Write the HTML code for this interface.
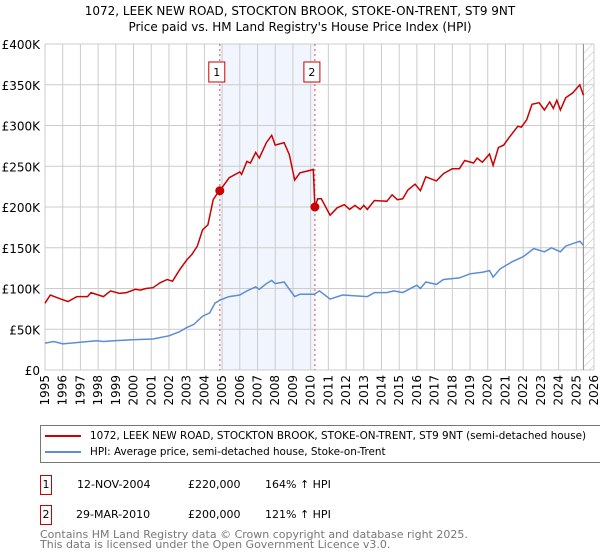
<!DOCTYPE html>
<html><head><meta charset="utf-8"><style>
body{margin:0;background:#fff;font-family:"DejaVu Sans","Liberation Sans",sans-serif;}
#wrap{position:relative;width:600px;height:560px;overflow:hidden}
</style></head><body><div id="wrap">
<svg id="chart" width="600" height="560" style="position:absolute;left:0;top:0;font-family:'DejaVu Sans','Liberation Sans',sans-serif">
<defs><pattern id="hatch" width="6" height="6" patternUnits="userSpaceOnUse" patternTransform="rotate(45)"><line x1="0" y1="0" x2="0" y2="6" stroke="#bbb" stroke-width="1"/></pattern></defs>
<text x="300" y="15" text-anchor="middle" font-size="12">1072, LEEK NEW ROAD, STOCKTON BROOK, STOKE-ON-TRENT, ST9 9NT</text>
<text x="300" y="31" text-anchor="middle" font-size="12">Price paid vs. HM Land Registry's House Price Index (HPI)</text>
<g id="grid"></g><g id="marks"></g><g id="axes"></g>
</svg>
<div style="position:absolute;left:40px;top:425px;width:570px;height:36px;border:1px solid #777;font-size:10.4px">
<div style="position:absolute;left:4px;top:4px;white-space:nowrap"><span style="display:inline-block;width:36px;border-top:2px solid #cc0000;vertical-align:middle;margin-right:9px"></span>1072, LEEK NEW ROAD, STOCKTON BROOK, STOKE-ON-TRENT, ST9 9NT (semi-detached house)</div>
<div style="position:absolute;left:4px;top:20px;white-space:nowrap"><span style="display:inline-block;width:36px;border-top:2px solid #5b8dd6;vertical-align:middle;margin-right:9px"></span>HPI: Average price, semi-detached house, Stoke-on-Trent</div>
</div>
<div style="position:absolute;top:475px;left:40px;font-size:11px;width:560px;height:20px">
<span style="position:absolute;left:0;top:0;width:10px;height:18px;border:1px solid #cc0000;text-align:center;line-height:18px">1</span>
<span style="position:absolute;left:37px;top:3px">12-NOV-2004</span><span style="position:absolute;left:148px;top:3px">£220,000</span><span style="position:absolute;left:225px;top:3px">164% ↑ HPI</span></div>
<div style="position:absolute;top:505px;left:40px;font-size:11px;width:560px;height:20px">
<span style="position:absolute;left:0;top:0;width:10px;height:18px;border:1px solid #cc0000;text-align:center;line-height:18px">2</span>
<span style="position:absolute;left:36px;top:3px">29-MAR-2010</span><span style="position:absolute;left:148px;top:3px">£200,000</span><span style="position:absolute;left:225px;top:3px">121% ↑ HPI</span></div>
<div style="position:absolute;left:40px;top:530px;font-size:11px;color:#777;line-height:10px">Contains HM Land Registry data © Crown copyright and database right 2025.<br>This data is licensed under the Open Government Licence v3.0.</div>
</div>
<script>
const yTicks=[0,50,100,150,200,250,300,350,400];
const yTickLabels=["£0","£50K","£100K","£150K","£200K","£250K","£300K","£350K","£400K"];
const xYears=[1995,1996,1997,1998,1999,2000,2001,2002,2003,2004,2005,2006,2007,2008,2009,2010,2011,2012,2013,2014,2015,2016,2017,2018,2019,2020,2021,2022,2023,2024,2025,2026];
const redX=[1995.0,1995.3,1995.9,1996.3,1996.8,1997.4,1997.6,1998.3,1998.7,1999.2,1999.6,2000.1,2000.4,2000.7,2001.1,2001.5,2001.9,2002.2,2002.6,2003.0,2003.3,2003.6,2003.9,2004.2,2004.5,2004.8,2004.87,2005.4,2006.0,2006.1,2006.4,2006.6,2006.9,2007.1,2007.5,2007.8,2008.0,2008.5,2008.8,2009.1,2009.4,2009.8,2010.15,2010.24,2010.4,2010.6,2011.1,2011.5,2011.9,2012.2,2012.5,2012.8,2013.0,2013.2,2013.6,2014.3,2014.6,2014.9,2015.2,2015.5,2015.9,2016.2,2016.5,2017.1,2017.5,2018.0,2018.4,2018.7,2019.2,2019.4,2019.7,2020.1,2020.3,2020.6,2020.9,2021.2,2021.7,2021.9,2022.2,2022.5,2022.9,2023.2,2023.5,2023.7,2023.9,2024.1,2024.4,2024.8,2025.2,2025.4];
const redV=[82,92,87,84,90,90,95,90,97,94,95,99,98,100,101,107,111,109,123,135,142,152,172,178,209,219,220,236,243,240,256,254,267,260,279,288,276,279,264,233,242,244,246,200,210,210,190,199,203,197,202,197,202,197,208,207,215,209,210,221,228,220,237,232,241,247,247,257,254,260,255,265,251,273,276,285,299,298,307,326,328,319,329,321,331,319,334,340,350,337];
const blueX=[1995.0,1995.5,1996.0,1997.0,1997.9,1998.3,1998.9,1999.9,2001.1,2002.0,2002.6,2003.0,2003.4,2003.9,2004.3,2004.6,2004.9,2005.4,2006.0,2006.4,2006.9,2007.1,2007.5,2007.8,2008.0,2008.5,2009.1,2009.4,2010.2,2010.5,2011.1,2011.8,2013.2,2013.6,2014.3,2014.7,2015.2,2016.0,2016.2,2016.5,2017.1,2017.5,2018.4,2019.0,2019.7,2020.1,2020.3,2020.7,2021.4,2022.0,2022.6,2023.2,2023.6,2024.1,2024.4,2025.2,2025.4];
const blueV=[33,35,32,34,36,35,36,37,38,42,47,52,56,66,70,82,86,90,92,97,102,99,106,110,106,108,90,93,93,97,87,92,90,95,95,97,95,104,100,108,105,111,113,118,120,122,114,124,133,139,149,145,150,145,152,158,153];
const sales=[{n:"1",x:2004.87,v:220},{n:"2",x:2010.24,v:200}];
const X0=45,X1=594,Y0=370,Y1=44;
const xs=y=>X0+(y-1995)/31*(X1-X0);
const ys=v=>Y0-v/400*(Y0-Y1);
const NS="http://www.w3.org/2000/svg";
function mk(tag,attrs,parent,txt){const e=document.createElementNS(NS,tag);for(const k in attrs)e.setAttribute(k,attrs[k]);if(txt!==undefined)e.textContent=txt;document.getElementById(parent).appendChild(e);return e;}
let e;
e=mk("rect",{x:xs(sales[0].x),y:Y1,width:xs(sales[1].x)-xs(sales[0].x),height:Y0-Y1,fill:"#eef3fc",opacity:0.8},"grid");


e=mk("rect",{x:xs(2025.4),y:Y1,width:X1-xs(2025.4),height:Y0-Y1,fill:"url(#hatch)"},"grid");


yTicks.forEach((t,i)=>{
 e=mk("line",{x1:X0,x2:X1,y1:ys(t),y2:ys(t),stroke:"#ccc","stroke-width":1},"grid");
 
 
 e=mk("text",{x:40,y:ys(t)+5,"text-anchor":"end","font-size":12},"axes",yTickLabels[i]);
 
 
});
xYears.forEach(yr=>{
 e=mk("line",{x1:xs(yr),x2:xs(yr),y1:Y1,y2:Y0,stroke:"#ccc","stroke-width":1},"grid");
 
 
 e=mk("text",{x:0,y:0,"text-anchor":"end","font-size":12,transform:`translate(${xs(yr)+4},${Y0+5}) rotate(-90)`},"axes",String(yr));
 
 
});
e=mk("line",{x1:xs(2025.4),x2:xs(2025.4),y1:Y1,y2:Y0,stroke:"#888","stroke-width":1},"grid");


sales.forEach(s=>{
 e=mk("line",{x1:xs(s.x),x2:xs(s.x),y1:Y1,y2:Y0,stroke:"#e05050","stroke-width":1,"stroke-dasharray":"2,3"},"grid");
 
 
});
const path=(xa,va)=>xa.map((x,i)=>(i?"L":"M")+xs(x).toFixed(1)+","+ys(va[i]).toFixed(1)).join("");
e=mk("path",{d:path(blueX,blueV),fill:"none",stroke:"#5b8dd6","stroke-width":1.5},"marks");


e=mk("path",{d:path(redX,redV),fill:"none",stroke:"#cc0000","stroke-width":1.5},"marks");


sales.forEach(s=>{
 e=mk("circle",{cx:xs(s.x),cy:ys(s.v),r:4.5,fill:"#cc0000"},"marks");
 
 
 e=mk("rect",{x:xs(s.x)-11,y:62,width:16,height:20,fill:"#fff",stroke:"#cc0000","stroke-width":1},"marks");
 
 
 e=mk("text",{x:xs(s.x)-3,y:76,"text-anchor":"middle","font-size":11},"marks",s.n);
 
 
});
</script></body></html>
